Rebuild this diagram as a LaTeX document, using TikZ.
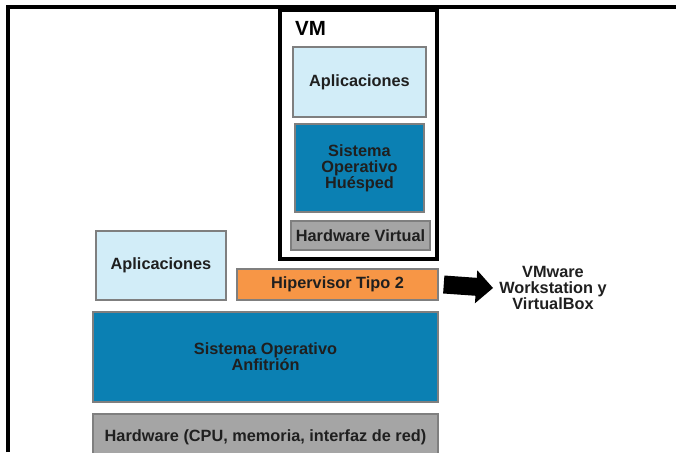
\documentclass[tikz,border=0pt]{standalone}
\usepackage{fontspec}
\setmainfont{Liberation Sans}
\usetikzlibrary{arrows.meta}
\definecolor{appblue}{HTML}{D2EDF8}
\definecolor{osblue}{HTML}{0B80B3}
\definecolor{hvorange}{HTML}{F79646}
\definecolor{hwgray}{HTML}{A5A5A5}
\definecolor{edgegray}{HTML}{7F7F7F}
\tikzset{
  layer/.style={draw=edgegray,line width=1.5pt,inner sep=0pt,align=center,
    font=\fontsize{16.3}{16}\selectfont\bfseries,text=black!88},
}
\begin{document}
\begin{tikzpicture}[x=1pt,y=-1pt]
\useasboundingbox (0,0) rectangle (676,452);
\draw[line width=3.2pt] (8,452) -- (8,7) -- (676,7);
% maquina virtual
\node[draw,line width=3.5pt,minimum width=157pt,minimum height=249pt] (vm) at (358.5,134.5) {};
\node[anchor=west,font=\fontsize{20.5}{20}\selectfont\bfseries,inner sep=0pt] (vmlabel) at (295,28) {VM};
\node[layer,fill=appblue,minimum width=133pt,minimum height=70pt] (vmapp) at (359.5,82) {Aplicaciones};
\node[layer,fill=osblue,minimum width=129pt,minimum height=88pt] (vmos) at (359.5,168) {Sistema\\Operativo\\Huésped};
\node[layer,fill=hwgray,minimum width=139pt,minimum height=29pt] (vmhw) at (360.5,235.5) {Hardware Virtual};
% anfitrion
\node[layer,fill=appblue,minimum width=130pt,minimum height=69pt] (app) at (161,265.5) {Aplicaciones};
\node[layer,fill=hvorange,minimum width=201pt,minimum height=31pt] (hyp) at (337.5,284.5) {Hipervisor Tipo 2};
\node[layer,fill=osblue,minimum width=345pt,minimum height=90pt] (hostos) at (265.5,357) {Sistema Operativo\\Anfitrión};
\node[layer,fill=hwgray,minimum width=345pt,minimum height=46pt] (hw) at (265.5,437) {Hardware (CPU, memoria, interfaz de red)};
\node[align=center,inner sep=0pt,font=\fontsize{16.3}{16}\selectfont\bfseries,text=black!88] (examples) at (553,288) {VMware\\Workstation y\\VirtualBox};
\draw[line width=18pt,-{Triangle[length=17pt,width=32pt]}] ([xshift=5pt]hyp.east) -- ([xshift=-6pt]examples.west);
\end{tikzpicture}
\end{document}
